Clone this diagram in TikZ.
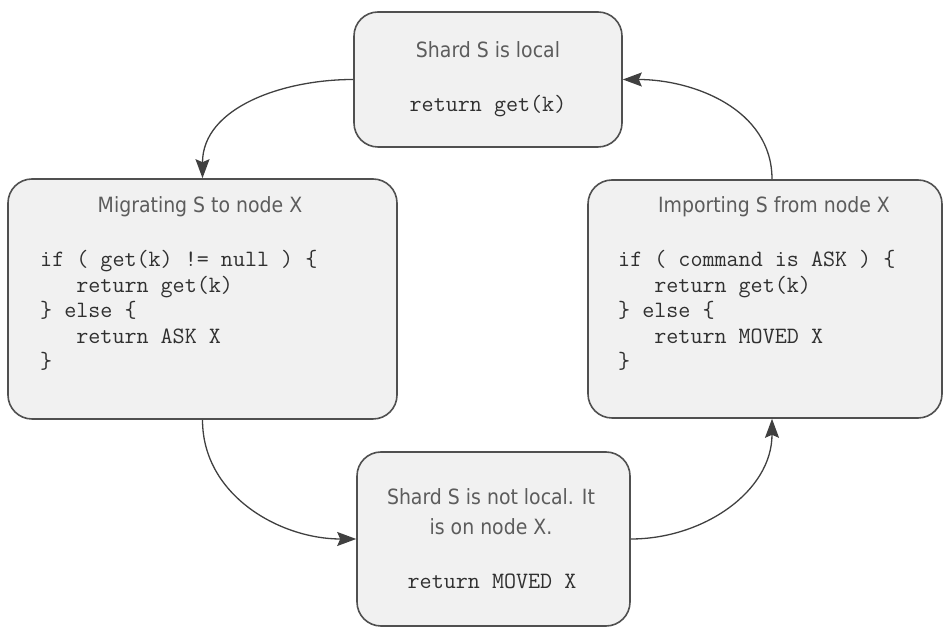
\documentclass[tikz,border=0pt]{standalone}
\usepackage{fontspec}
\usepackage{tikz}
\usetikzlibrary{arrows.meta}
\newfontfamily\labelfont{DejaVu Sans Condensed}
\definecolor{boxfill}{HTML}{F1F1F1}
\definecolor{boxline}{HTML}{505050}
\definecolor{titlegray}{HTML}{5C5C5C}
\definecolor{codegray}{HTML}{303030}

\begin{document}
\begin{tikzpicture}[x=1pt,y=1pt,
	statebox/.style={draw=boxline,fill=boxfill,line width=1.6pt,rounded corners=24pt,inner sep=0pt},
	heading/.style={font=\labelfont\fontsize{21}{25}\selectfont,text=titlegray,inner sep=0pt,anchor=base},
	codeline/.style={font=\ttfamily\fontsize{23.4}{25}\selectfont,text=codegray,inner sep=0pt,anchor=base west},
	flow/.style={draw=boxline!80!black,line width=1.3pt,-{Stealth[length=19pt,width=14pt,inset=3pt]}}]
	\useasboundingbox (0,0) rectangle (944,628);
	% the four states
	\node[statebox,minimum width=268pt,minimum height=135pt] (local) at (488,548.5) {};
	\node[statebox,minimum width=389pt,minimum height=240pt] (migrating) at (202.5,329) {};
	\node[statebox,minimum width=354pt,minimum height=238pt] (importing) at (765,329) {};
	\node[statebox,minimum width=273pt,minimum height=174pt] (moved) at (493.5,89) {};
	% shard is local
	\node[heading] (local-title) at (488,570) {Shard S is local};
	\node[codeline,anchor=base] (local-code) at (488,516) {return get(k)};
	% migrating
	\node[heading] (migrating-title) at (200,415) {Migrating S to node X};
	\node[codeline] (migrating-l1) at (40,361) {if ( get(k) != null ) \{};
	\node[codeline] (migrating-l2) at (40,335.5) {\ \ \ return get(k)};
	\node[codeline] (migrating-l3) at (40,310) {\} else \{};
	\node[codeline] (migrating-l4) at (40,284.5) {\ \ \ return ASK X};
	\node[codeline] (migrating-l5) at (40,259) {\}};
	% importing
	\node[heading] (importing-title) at (774,415) {Importing S from node X};
	\node[codeline] (importing-l1) at (618,361) {if ( command is ASK ) \{};
	\node[codeline] (importing-l2) at (618,335.5) {\ \ \ return get(k)};
	\node[codeline] (importing-l3) at (618,310) {\} else \{};
	\node[codeline] (importing-l4) at (618,284.5) {\ \ \ return MOVED X};
	\node[codeline] (importing-l5) at (618,259) {\}};
	% not local
	\node[heading] (moved-title1) at (491,123) {Shard S is not local. It};
	\node[heading] (moved-title2) at (491,93) {is on node X.};
	\node[codeline,anchor=base] (moved-code) at (492,39) {return MOVED X};
	% transitions
	\draw[flow] (local.west) to[out=180,in=90] (migrating.north);
	\draw[flow] (migrating.south) to[out=-90,in=180] (moved.west);
	\draw[flow] (moved.east) to[out=0,in=-90] ([xshift=7pt]importing.south);
	\draw[flow] ([xshift=7pt]importing.north) to[out=90,in=0] (local.east);
\end{tikzpicture}
\end{document}
